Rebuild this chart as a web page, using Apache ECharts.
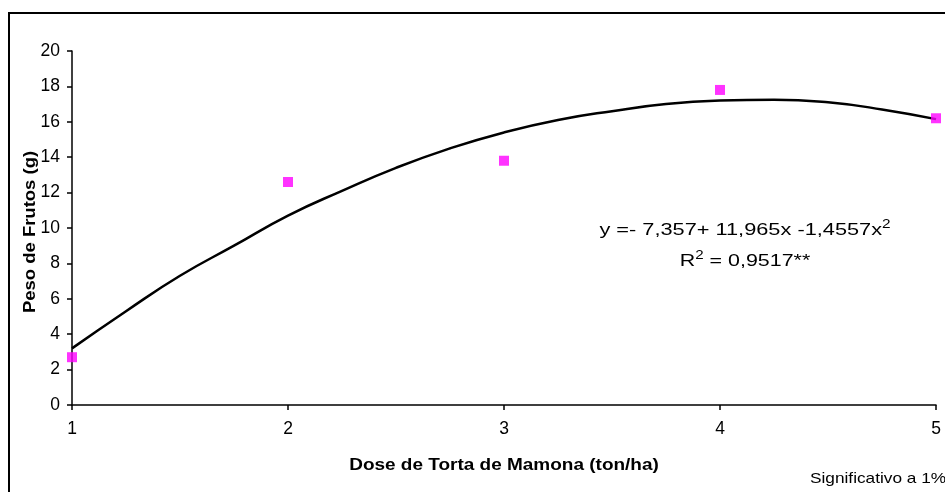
<!DOCTYPE html>
<html>
<head>
<meta charset="utf-8">
<script src="https://cdn.jsdelivr.net/npm/echarts@6/dist/echarts.min.js"></script>
<style>html,body{margin:0;padding:0;background:#fff}#c{width:945px;height:492px}</style>
</head>
<body>
<div id="c"></div>
<script>
var doses = [1, 2, 3, 4, 5];
var pesoObs = [2.7, 12.6, 13.8, 17.8, 16.2];
var curveX = [1, 1.25, 1.5, 1.75, 2, 2.25, 2.5, 2.75, 3, 3.25, 3.5, 3.75, 4, 4.25, 4.5, 4.75, 5];
var curveY = [3.2, 5.3, 7.3, 9.0, 10.7, 12.1, 13.4, 14.5, 15.4, 16.1, 16.6, 17.0, 17.2, 17.25, 17.1, 16.7, 16.15];
var yTicks = [0, 20, 2];
var xTitle = 'Dose de Torta de Mamona (ton/ha)';
var yTitle = 'Peso de Frutos (g)';

var chart = echarts.init(document.getElementById('c'), null, {renderer: 'canvas'});
var font = 'Liberation Sans, Arial, sans-serif';
var richEq = {
  n: {fontFamily: font, fontSize: 17, fill: '#000', lineHeight: 22},
  s: {fontFamily: font, fontSize: 12, fill: '#000', lineHeight: 22, padding: [0, 0, 10, 0]}
};
chart.setOption({
  animation: false,
  backgroundColor: '#fff',
  grid: {left: 72, right: 9, top: 51, bottom: 87, containLabel: false},
  xAxis: {
    type: 'value', min: 1, max: 5, interval: 1,
    axisLine: {show: true, onZero: false, lineStyle: {color: '#000', width: 1.5}},
    axisTick: {show: true, length: 5, lineStyle: {color: '#000', width: 1.5}},
    axisLabel: {fontFamily: font, fontSize: 17.5, color: '#000', margin: 15},
    splitLine: {show: false}
  },
  yAxis: {
    type: 'value', min: yTicks[0], max: yTicks[1], interval: yTicks[2],
    axisLine: {show: true, lineStyle: {color: '#000', width: 1.5}},
    axisTick: {show: true, length: 5, lineStyle: {color: '#000', width: 1.5}},
    axisLabel: {fontFamily: font, fontSize: 17.5, color: '#000', margin: 12},
    splitLine: {show: false}
  },
  series: [
    {
      type: 'line', smooth: true, symbol: 'none', z: 2,
      data: curveX.map(function (x, i) { return [x, curveY[i]]; }),
      lineStyle: {color: '#000', width: 2.5}
    },
    {
      type: 'scatter', symbol: 'rect', symbolSize: 10, z: 3,
      data: doses.map(function (x, i) { return [x, pesoObs[i]]; }),
      itemStyle: {color: '#FF00FF'}
    }
  ],
  graphic: [
    {type: 'rect', shape: {x: 9, y: 13, width: 1000, height: 600}, style: {fill: 'none', stroke: '#000', lineWidth: 2}, silent: true},
    {type: 'text', x: 745, y: 230, scaleX: 1.28, style: {rich: richEq, text: '{n|y =- 7,357+ 11,965x -1,4557x}{s|2}', align: 'center', verticalAlign: 'middle'}},
    {type: 'text', x: 745, y: 261, scaleX: 1.26, style: {rich: richEq, text: '{n|R}{s|2}{n| = 0,9517**}', align: 'center', verticalAlign: 'middle'}},
    {type: 'text', x: 504, y: 465, scaleX: 1.15, style: {text: xTitle, fontFamily: font, fontWeight: 'bold', fontSize: 16.5, fill: '#000', align: 'center', verticalAlign: 'middle'}},
    {type: 'text', x: 30, y: 232, rotation: Math.PI / 2, scaleX: 1.12, style: {text: yTitle, fontFamily: font, fontWeight: 'bold', fontSize: 16.5, fill: '#000', align: 'center', verticalAlign: 'middle'}},
    {type: 'text', x: 810, y: 479, scaleX: 1.15, style: {text: 'Significativo a 1%', fontFamily: font, fontSize: 15, fill: '#000', align: 'left', verticalAlign: 'middle'}}
  ]
});
</script>
</body>
</html>
